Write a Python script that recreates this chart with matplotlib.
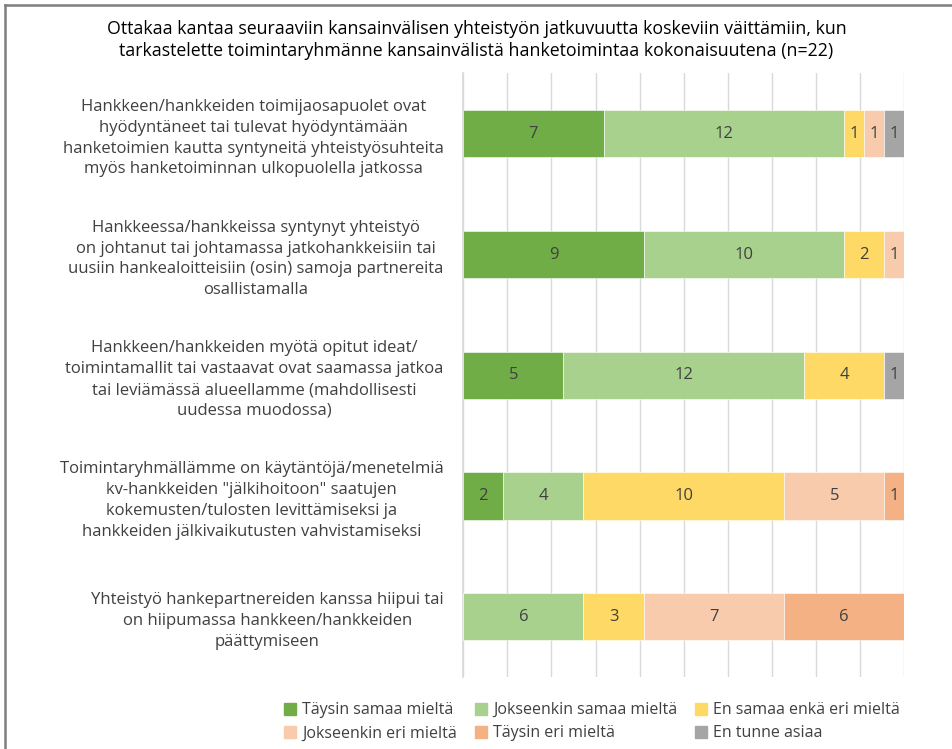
import numpy as np
import matplotlib.pyplot as plt
from matplotlib.lines import Line2D

plt.rcParams['font.family'] = ['Open Sans', 'DejaVu Sans']

title = ("Ottakaa kantaa seuraaviin kansainvälisen yhteistyön jatkuvuutta koskeviin väittämiin, kun\n"
         "tarkastelette toimintaryhmänne kansainvälistä hanketoimintaa kokonaisuutena (n=22)")

questions = [
    "Hankkeen/hankkeiden toimijaosapuolet ovat\nhyödyntäneet tai tulevat hyödyntämään\nhanketoimien kautta syntyneitä yhteistyösuhteita\nmyös hanketoiminnan ulkopuolella jatkossa",
    "Hankkeessa/hankkeissa syntynyt yhteistyö\non johtanut tai johtamassa jatkohankkeisiin tai\nuusiin hankealoitteisiin (osin) samoja partnereita\nosallistamalla",
    "Hankkeen/hankkeiden myötä opitut ideat/\ntoimintamallit tai vastaavat ovat saamassa jatkoa\ntai leviämässä alueellamme (mahdollisesti\nuudessa muodossa)",
    "Toimintaryhmällämme on käytäntöjä/menetelmiä\nkv-hankkeiden \"jälkihoitoon\" saatujen\nkokemusten/tulosten levittämiseksi ja\nhankkeiden jälkivaikutusten vahvistamiseksi",
    "Yhteistyö hankepartnereiden kanssa hiipui tai\non hiipumassa hankkeen/hankkeiden\npäättymiseen",
]

series = ["Täysin samaa mieltä", "Jokseenkin samaa mieltä", "En samaa enkä eri mieltä",
          "Jokseenkin eri mieltä", "Täysin eri mieltä", "En tunne asiaa"]
colors = ["#70AD47", "#A9D18E", "#FFD966", "#F8CBAD", "#F4B183", "#A5A5A5"]

taysin_samaa = [7, 9, 5, 2, 0]
jokseenkin_samaa = [12, 10, 12, 4, 6]
en_samaa_enka = [1, 2, 4, 10, 3]
jokseenkin_eri = [1, 1, 0, 5, 7]
taysin_eri = [0, 0, 0, 1, 6]
en_tunne = [1, 0, 1, 0, 0]

counts = np.array([taysin_samaa, jokseenkin_samaa, en_samaa_enka,
                   jokseenkin_eri, taysin_eri, en_tunne], dtype=float)
totals = counts.sum(axis=0)
shares = counts / totals * 100

fig = plt.figure(figsize=(9.53, 7.49), dpi=100)
ax = fig.add_axes([0.486, 0.096, 0.463, 0.806])

y = np.arange(len(questions))
left = np.zeros(len(questions))
for i in range(len(series)):
    ax.barh(y, shares[i], left=left, height=0.39, color=colors[i],
            edgecolor='white', linewidth=0.4, label=series[i], zorder=3)
    for j in range(len(questions)):
        if counts[i, j] > 0:
            ax.text(left[j] + shares[i, j] / 2, y[j], f"{int(counts[i, j])}",
                    ha='center', va='center', fontsize=12, color='#404040', zorder=4)
    left += shares[i]

ax.set_xlim(0, 100)
ax.set_ylim(len(questions) - 0.5, -0.5)
ax.set_xticks(np.arange(0, 101, 10))
ax.set_xticklabels([])
ax.tick_params(axis='x', length=0)
ax.tick_params(axis='y', length=0, pad=14)
ax.grid(axis='x', color='#D9D9D9', lw=1, zorder=0)
for s in ['top', 'right', 'bottom']:
    ax.spines[s].set_visible(False)
ax.spines['left'].set_color('#D9D9D9')
ax.spines['left'].set_linewidth(1.2)

ax.set_yticks(y)
ax.set_yticklabels(questions, fontsize=12, color='#404040', multialignment='center',
                   linespacing=1.4)

fig.text(0.5, 0.947, title, ha='center', va='center', fontsize=12.8, color='black',
         linespacing=1.3)

# legend, filled row by row like the original
order = [0, 3, 1, 4, 2, 5]
handles = [Line2D([], [], marker='s', ls='none', color=colors[k], markersize=8) for k in order]
labels = [series[k] for k in order]
fig.legend(handles, labels, loc='lower center', bbox_to_anchor=(0.62, -0.009), ncol=3,
           frameon=False, fontsize=11.5, handletextpad=0.25, columnspacing=1.0,
           labelspacing=0.45, handlelength=1.0, labelcolor='#404040')

# frame around figure
fig.add_artist(Line2D([0.005, 0.005], [0.0, 0.993], color='#7F7F7F', lw=1.8))
fig.add_artist(Line2D([0.005, 1.0], [0.993, 0.993], color='#7F7F7F', lw=1.8))

fig.savefig('out.png', dpi=100)
